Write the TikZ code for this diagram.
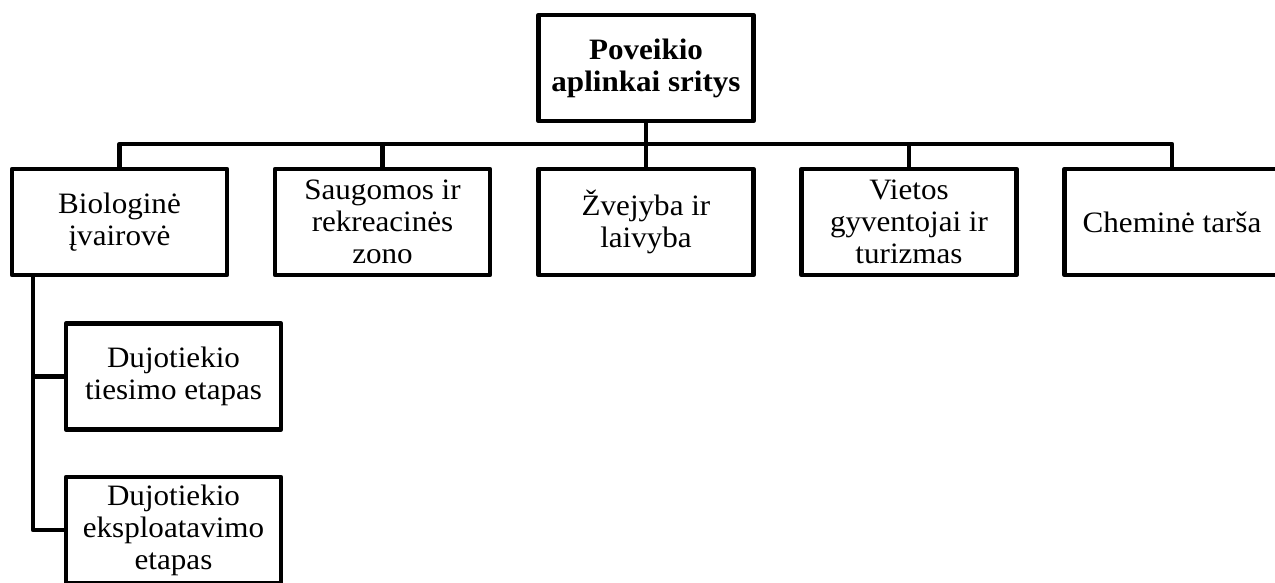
\documentclass[tikz,border=0pt]{standalone}
\usepackage{fontspec}
\setmainfont{Liberation Serif}[FakeStretch=1.05]
\begin{document}
\begin{tikzpicture}[x=0.5pt,y=-0.5pt,
  box/.style={draw, line width=2.3pt, line join=round, minimum width=107.5pt, minimum height=53pt,
    inner sep=0pt, align=center, font=\fontsize{14.8pt}{16pt}\selectfont},
  conn/.style={line width=2.2pt, line join=round}]
\useasboundingbox (0,0) rectangle (1275,583);
\node[box, font=\fontsize{14.8pt}{16pt}\selectfont\bfseries] (root) at (646,68) {Poveikio\\aplinkai sritys};
\node[box] (c1) at (119.5,222) {Biologinė\\įvairovė};
\node[box] (c2) at (382.5,222) {Saugomos ir\\rekreacinės\\zono};
\node[box] (c3) at (646,222) {Žvejyba ir\\laivyba};
\node[box] (c4) at (909,222) {Vietos\\gyventojai ir\\turizmas};
\node[box] (c5) at (1172,222) {Cheminė tarša};
\node[box] (s1) at (173.5,376.5) {Dujotiekio\\tiesimo etapas};
\node[box] (s2) at (173.5,530) {Dujotiekio\\eksploatavimo\\etapas};
\coordinate (bus) at (646,144);
\coordinate (trunk) at (33,0);
\foreach \c in {c1,c2,c3,c4,c5}
  \draw[conn] (root.south) -- (bus) -| (\c.north);
\draw[conn] (trunk |- c1.south) |- (s1.west);
\draw[conn] (trunk |- c1.south) |- (s2.west);
\end{tikzpicture}
\end{document}
